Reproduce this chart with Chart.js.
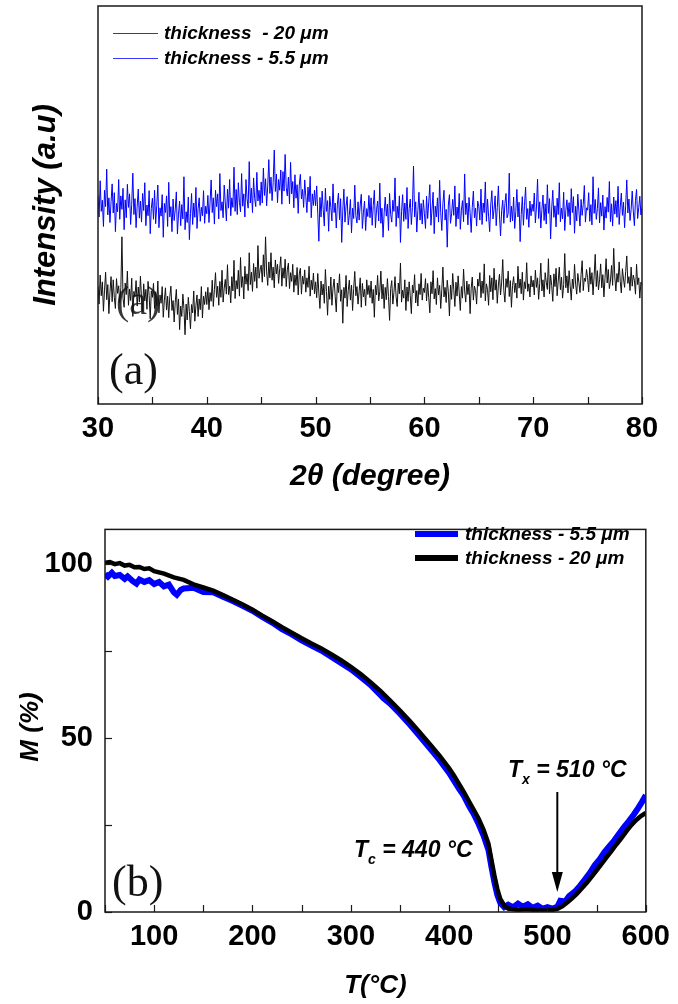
<!DOCTYPE html>
<html>
<head>
<meta charset="utf-8">
<script src="https://cdn.jsdelivr.net/npm/chart.js@4.4.1/dist/chart.umd.min.js"></script>
<style>
html, body { margin: 0; padding: 0; background: #fff; }
#wrapA { position: absolute; left: 0; top: 0; width: 678px; height: 500px; }
#wrapB { position: absolute; left: 0; top: 500px; width: 678px; height: 504px; }
</style>
</head>
<body>
<div id="wrapA"><canvas id="chartA" width="678" height="500"></canvas></div>
<div id="wrapB"><canvas id="chartB" width="678" height="504"></canvas></div>
<script>
//-------------------------------------------------------------------------------------------------//
//--------------------------------------- Data ----------------------------------------------------//
//-------------------------------------------------------------------------------------------------//

// (a) XRD scans, 2theta from 30 to 80 in steps of 0.1 (arbitrary intensity units)
var xrdStart = 30;
var xrdStep = 0.1;

var xrdThick20 = [
	29.6, 25.1, 32.4, 27.2, 30.7, 23.3, 28.6, 33.1, 26.2, 30.0, 22.7, 28.1, 32.0, 25.7, 31.2, 26.8, 24.0, 31.5, 27.8, 29.7,
	25.4, 29.2, 42.0, 26.5, 24.3, 30.4, 27.5, 33.4, 24.8, 28.9, 26.0, 31.6, 22.0, 28.3, 27.0, 31.0, 24.6, 29.4, 25.6, 32.1,
	26.7, 23.2, 30.2, 25.9, 28.8, 23.8, 30.8, 27.3, 21.4, 28.4,
	26.8, 30.3, 24.0, 28.2, 24.7, 30.9, 22.9, 27.4, 25.3, 29.5, 21.8, 26.1, 29.2, 23.6, 27.1, 21.7, 27.0, 29.6, 23.5, 26.0,
	20.6, 25.6, 28.8, 22.5, 26.4, 18.7, 24.6, 22.0, 27.6, 24.0, 17.4, 25.1, 21.1, 26.8, 23.2, 18.9, 25.0, 22.9, 28.4, 20.8,
	24.7, 27.4, 22.0, 26.4, 23.7, 29.5, 21.6, 27.1, 25.0, 28.2,
	25.0, 29.3, 23.7, 28.0, 25.8, 31.1, 24.5, 28.8, 33.0, 26.8, 29.6, 24.8, 30.8, 26.8, 33.6, 25.6, 29.1, 31.3, 27.6, 35.0,
	27.5, 29.6, 25.4, 32.0, 28.4, 36.1, 26.5, 31.0, 28.9, 33.6, 27.1, 36.8, 29.3, 32.0, 26.4, 34.6, 30.1, 32.7, 28.5, 38.0,
	30.0, 33.1, 28.3, 35.3, 30.8, 34.4, 29.1, 39.8, 31.6, 33.7,
	34.9, 30.6, 37.5, 32.0, 42.0, 33.2, 29.8, 35.7, 31.7, 38.0, 31.1, 34.4, 29.2, 36.2, 32.7, 35.1, 30.3, 34.0, 37.0, 29.6,
	34.2, 31.6, 36.4, 29.5, 33.7, 35.4, 29.0, 33.0, 30.8, 35.1, 28.1, 32.4, 29.8, 34.3, 27.4, 32.7, 34.1, 27.6, 32.1, 30.1,
	33.7, 28.1, 31.7, 29.3, 34.6, 27.1, 31.1, 28.7, 32.9, 27.7,
	30.7, 26.7, 32.8, 27.9, 24.0, 30.9, 27.4, 30.1, 25.3, 33.8, 28.3, 22.3, 29.6, 26.3, 31.9, 24.8, 29.1, 31.4, 27.1, 23.1,
	30.4, 28.0, 32.7, 25.8, 28.7, 20.3, 29.3, 26.6, 32.3, 24.5, 28.5, 31.1, 26.1, 29.9, 23.5, 29.0, 33.3, 27.2, 29.5, 25.1,
	28.2, 31.7, 24.3, 30.3, 26.9, 28.8, 24.7, 31.2, 27.5, 29.8,
	26.7, 30.9, 25.3, 28.8, 21.8, 29.8, 27.4, 32.3, 25.9, 28.3, 33.4, 26.4, 30.1, 24.0, 29.3, 26.2, 31.5, 27.0, 21.0, 29.0,
	31.0, 25.1, 28.0, 32.0, 26.9, 24.5, 30.4, 27.7, 35.4, 25.6, 28.6, 26.6, 31.2, 23.5, 29.4, 25.8, 30.7, 27.2, 22.7, 29.9,
	27.9, 32.5, 25.4, 28.5, 24.6, 30.2, 27.5, 32.8, 26.1, 29.1,
	28.0, 31.5, 25.9, 30.3, 26.7, 22.9, 30.7, 27.7, 33.5, 26.4, 29.0, 25.0, 31.7, 27.4, 29.8, 24.0, 28.7, 34.4, 26.9, 29.3,
	25.5, 31.1, 28.2, 22.1, 29.9, 26.3, 32.8, 28.8, 24.5, 30.6, 27.1, 32.2, 27.9, 23.5, 29.5, 26.6, 33.9, 28.4, 25.6, 30.9,
	27.5, 30.1, 22.7, 29.1, 31.9, 26.1, 29.6, 28.5, 25.1, 31.4,
	29.6, 33.0, 26.7, 30.9, 27.8, 35.2, 25.9, 30.2, 28.8, 24.8, 32.3, 28.2, 31.7, 26.2, 34.1, 28.6, 31.2, 25.3, 29.9, 32.6,
	27.4, 30.6, 36.3, 28.5, 25.6, 31.5, 29.3, 33.4, 27.0, 31.0, 24.3, 29.8, 32.0, 28.0, 30.4, 26.6, 34.6, 29.1, 31.4, 27.7,
	33.1, 26.1, 30.7, 29.0, 35.5, 28.3, 30.2, 26.9, 32.2, 29.4,
	31.1, 27.4, 33.6, 29.3, 31.7, 26.3, 30.3, 35.4, 28.4, 31.2, 26.9, 33.0, 30.6, 28.8, 36.5, 27.7, 32.4, 29.8, 25.8, 32.7,
	29.5, 34.1, 27.2, 30.9, 34.4, 28.7, 31.9, 26.6, 30.0, 37.8, 29.2, 32.2, 27.9, 33.5, 29.6, 26.1, 31.4, 29.0, 35.1, 30.1,
	27.6, 32.8, 30.5, 28.0, 32.5, 36.0, 28.5, 31.6, 30.8, 33.8,
	31.7, 28.2, 34.3, 30.1, 33.0, 27.4, 32.2, 37.6, 29.5, 33.5, 28.7, 31.2, 35.2, 29.2, 32.5, 26.9, 31.6, 36.5, 30.4, 33.8,
	29.0, 30.9, 34.8, 29.8, 39.1, 31.9, 28.4, 32.8, 30.6, 35.7, 30.8, 27.9, 34.0, 31.4, 29.3, 33.3, 37.2, 30.3, 32.0, 28.5,
	34.4, 29.6, 32.4, 31.1, 27.6, 35.1, 30.0, 31.7, 26.6, 30.6,
	29.8
];

var xrdThin55 = [
	52.4, 47.0, 56.1, 48.4, 51.2, 44.6, 53.7, 49.6, 59.0, 47.5, 51.8, 45.6, 50.8, 55.3, 48.0, 53.1, 43.3, 50.4, 48.3, 56.4,
	46.4, 52.3, 48.9, 54.2, 43.8, 51.3, 46.8, 55.2, 49.4, 52.8, 45.1, 50.2, 58.0, 47.6, 51.6, 44.3, 49.7, 54.0, 46.7, 51.0,
	45.7, 52.9, 48.6, 55.6, 44.8, 50.0, 47.3, 53.6, 42.8, 49.1,
	51.7, 46.4, 53.7, 45.3, 49.9, 55.0, 44.3, 49.3, 47.2, 52.6, 41.9, 50.4, 48.1, 52.3, 44.6, 55.7, 47.0, 49.6, 43.3, 51.5,
	46.1, 48.8, 53.3, 42.7, 47.7, 51.0, 44.8, 50.1, 46.5, 57.1, 43.8, 48.3, 45.6, 52.0, 41.3, 47.8, 52.9, 45.1, 50.5, 46.9,
	54.4, 44.1, 49.1, 51.8, 45.9, 49.4, 47.3, 53.6, 45.4, 49.7,
	47.8, 52.4, 45.6, 50.7, 56.3, 48.1, 51.8, 45.2, 53.7, 49.6, 52.8, 46.5, 57.9, 48.6, 50.8, 46.8, 55.0, 50.5, 46.0, 54.0,
	49.2, 56.4, 47.3, 51.8, 49.4, 59.5, 48.4, 53.9, 47.6, 55.6, 50.7, 48.3, 57.9, 49.7, 52.8, 47.0, 56.4, 51.6, 49.2, 60.9,
	50.5, 54.2, 48.1, 56.8, 51.6, 49.6, 58.2, 51.0, 53.7, 49.9,
	55.8, 50.5, 59.3, 52.4, 56.6, 49.8, 54.8, 61.4, 52.9, 57.0, 51.1, 55.6, 63.8, 53.4, 57.8, 50.6, 56.4, 53.7, 58.8, 50.2,
	58.4, 53.5, 62.7, 54.4, 52.3, 57.0, 50.3, 60.7, 52.8, 55.9, 49.3, 57.6, 51.7, 55.1, 47.9, 55.0, 57.7, 51.5, 53.9, 49.4,
	56.3, 52.1, 48.1, 54.5, 50.8, 57.2, 46.8, 52.8, 49.9, 53.7,
	49.8, 54.8, 47.8, 40.9, 51.9, 47.0, 53.5, 48.9, 44.7, 54.2, 48.4, 51.1, 43.4, 52.2, 49.4, 46.0, 55.3, 48.1, 50.5, 44.2,
	50.2, 53.0, 46.3, 51.6, 40.6, 48.7, 54.0, 45.7, 49.7, 52.1, 45.0, 47.4, 51.4, 43.0, 49.2, 46.6, 55.0, 47.3, 45.5, 50.8,
	46.2, 50.0, 52.7, 44.1, 48.2, 51.0, 43.6, 49.1, 47.1, 52.4,
	46.8, 51.8, 44.9, 49.9, 53.7, 44.3, 48.8, 51.0, 46.0, 55.5, 45.4, 49.2, 41.9, 48.0, 52.0, 47.2, 50.2, 43.6, 52.9, 47.6,
	45.7, 51.2, 48.4, 56.8, 44.6, 49.7, 46.7, 52.3, 40.6, 48.3, 52.6, 45.9, 50.5, 46.4, 54.4, 44.1, 49.1, 51.5, 45.1, 49.4,
	59.8, 47.0, 50.8, 43.2, 48.6, 53.2, 46.2, 50.4, 45.2, 51.3,
	47.9, 44.1, 52.2, 46.6, 50.8, 55.1, 44.9, 49.0, 53.2, 42.8, 49.7, 47.0, 51.8, 45.7, 56.2, 48.2, 43.6, 50.3, 53.7, 46.2,
	48.9, 39.4, 50.0, 52.6, 45.4, 47.8, 51.4, 47.4, 54.8, 44.6, 49.5, 46.5, 52.9, 43.9, 48.6, 51.1, 45.8, 57.8, 47.6, 50.5,
	45.0, 51.9, 48.1, 43.1, 49.4, 53.5, 46.8, 49.2, 44.7, 51.0,
	49.6, 46.2, 54.0, 45.1, 50.5, 48.1, 55.8, 45.9, 51.5, 47.2, 43.3, 50.0, 53.6, 46.5, 48.9, 52.3, 44.8, 49.4, 54.8, 47.5,
	42.2, 48.6, 51.2, 45.4, 50.4, 52.9, 46.8, 47.8, 58.0, 45.7, 49.7, 46.0, 52.0, 44.1, 48.3, 53.9, 47.0, 50.7, 40.8, 47.6,
	52.1, 44.9, 49.9, 54.5, 46.4, 49.1, 44.4, 51.0, 47.3, 50.2,
	48.4, 53.0, 45.5, 49.5, 56.5, 46.6, 50.8, 44.2, 48.9, 52.5, 46.1, 50.3, 45.2, 55.1, 47.9, 51.6, 41.5, 49.0, 53.7, 46.9,
	49.8, 44.5, 51.7, 47.6, 55.6, 45.8, 49.2, 46.5, 53.2, 43.6, 48.7, 51.3, 47.1, 50.6, 45.0, 54.1, 48.1, 52.1, 42.9, 49.7,
	46.0, 52.7, 48.5, 44.7, 51.4, 47.4, 50.1, 54.9, 45.7, 49.3,
	48.7, 53.1, 45.9, 50.1, 45.0, 57.1, 47.9, 51.4, 46.4, 49.1, 54.3, 45.5, 50.6, 47.2, 52.5, 43.7, 49.6, 46.7, 51.9, 48.2,
	55.9, 45.8, 50.3, 44.7, 52.0, 47.7, 51.1, 46.9, 54.7, 45.1, 49.5, 53.0, 47.4, 50.7, 44.3, 49.9, 56.3, 48.0, 51.5, 46.1,
	48.8, 53.5, 48.5, 44.8, 51.2, 53.9, 46.6, 49.3, 52.2, 47.5,
	49.4
];

// (b) magnetisation vs temperature
var tempThick20 = [50, 55, 60, 65, 70, 75, 80, 85, 90, 95, 100, 110, 120, 130, 140, 150, 160, 170, 180, 190, 200,
	210, 220, 230, 240, 250, 260, 270, 280, 290, 300, 310, 320, 330, 340, 350, 360, 370, 380, 390, 400,
	405, 410, 415, 420, 425, 430, 435, 440, 443, 446, 449, 452, 456, 460, 470, 480, 490, 500, 505, 510,
	515, 520, 525, 530, 535, 540, 545, 550, 555, 560, 565, 570, 575, 580, 585, 590, 595, 600];
var magThick20 = [100.4, 100.6, 100.0, 100.3, 99.6, 99.8, 99.1, 99.2, 98.6, 98.8, 98.0, 97.3, 96.2, 95.5, 94.2, 93.3, 92.4, 91.1, 89.8, 88.4, 86.9,
	85.2, 83.6, 81.9, 80.3, 78.7, 77.2, 75.8, 74.1, 72.4, 70.5, 68.4, 66.1, 63.6, 60.8, 57.9, 54.9, 51.7, 48.4, 45.0, 41.3,
	39.2, 36.8, 34.5, 31.9, 29.4, 26.8, 23.6, 19.6, 15.0, 10.5, 6.6, 3.8, 1.9, 1.0, 0.6, 0.8, 0.4, 0.5, 0.6, 0.9,
	1.6, 2.7, 3.9, 5.3, 6.8, 8.4, 10.2, 12.0, 13.8, 15.7, 17.5, 19.4, 21.2, 23.1, 24.9, 26.4, 27.6, 28.5];

var tempThin55 = [50, 53, 57, 60, 65, 70, 73, 78, 82, 85, 90, 95, 100, 105, 110, 115, 120, 123, 127, 130, 140, 150,
	160, 170, 180, 190, 200, 210, 220, 230, 240, 250, 260, 270, 280, 290, 300, 310, 320, 330, 333, 340,
	350, 360, 370, 380, 390, 400, 410, 415, 420, 425, 430, 435, 440, 443, 446, 449, 452, 456, 460, 465,
	470, 475, 480, 485, 490, 495, 500, 505, 510, 513, 518, 522, 528, 533, 538, 543, 548, 553, 558, 563,
	568, 573, 578, 583, 588, 592, 596, 600];
var magThin55 = [97.2, 96.4, 97.5, 96.6, 96.9, 95.8, 96.5, 95.2, 94.4, 95.6, 94.9, 95.4, 94.3, 94.9, 93.6, 94.1, 91.9, 91.2, 92.6, 93.0, 93.2, 92.0,
	91.9, 90.6, 89.4, 88.0, 86.6, 84.8, 83.2, 81.3, 79.8, 78.1, 76.6, 75.2, 73.4, 71.6, 69.8, 67.6, 65.3, 62.4, 61.5, 59.9,
	57.0, 53.9, 50.6, 47.2, 43.8, 40.0, 35.5, 33.4, 30.6, 28.2, 25.3, 22.0, 17.8, 13.0, 8.6, 4.9, 2.6, 1.4, 2.1, 1.3,
	2.4, 1.5, 2.2, 1.2, 1.8, 0.9, 1.4, 1.0, 1.5, 3.2, 3.0, 4.6, 5.9, 7.5, 9.3, 11.2, 13.4, 15.1, 17.2, 18.9,
	20.6, 22.6, 24.5, 26.2, 28.1, 29.8, 31.6, 33.6];

var legendA = ['thickness  - 20 \u03BCm', 'thickness - 5.5 \u03BCm'];
var legendB = ['thickness - 5.5 \u03BCm', 'thickness - 20 \u03BCm'];
var tcTemp = 440;
var txTemp = 510;

//-------------------------------------------------------------------------------------------------//
//--------------------------------------- Helpers -------------------------------------------------//
//-------------------------------------------------------------------------------------------------//

var SANS = 'Arial, "Liberation Sans", sans-serif';
var SERIF = '"Times New Roman", "Liberation Serif", serif';

function xrdPoints(values) {
	return values.map((v, i) => ({x: +(xrdStart + i * xrdStep).toFixed(1), y: v}));
}

function pairPoints(xs, ys) {
	return xs.map((x, i) => ({x: x, y: ys[i]}));
}

function line(ctx, x1, y1, x2, y2) {
	ctx.beginPath();
	ctx.moveTo(x1, y1);
	ctx.lineTo(x2, y2);
	ctx.stroke();
}

// text with a subscript after the first letter: T_c = 440 °C
function subText(ctx, main, sub, rest, x, y, size) {
	ctx.font = 'italic bold ' + size + 'px ' + SANS;
	ctx.textBaseline = 'alphabetic';
	ctx.textAlign = 'left';
	ctx.fillText(main, x, y);
	var w = ctx.measureText(main).width;
	ctx.font = 'italic bold ' + Math.round(size * 0.62) + 'px ' + SANS;
	ctx.fillText(sub, x + w, y + 7);
	var ws = ctx.measureText(sub).width;
	ctx.font = 'italic bold ' + size + 'px ' + SANS;
	ctx.fillText(rest, x + w + ws, y);
}

var framePlugin = {
	id: 'frame',
	afterDatasetsDraw(chart, args, opts) {
		var a = chart.chartArea;
		var ctx = chart.ctx;
		ctx.save();
		ctx.strokeStyle = '#1a1a1a';
		ctx.lineWidth = 1.5;
		ctx.strokeRect(a.left, a.top, a.right - a.left, a.bottom - a.top);

		ctx.lineWidth = 1.2;
		var xs = chart.scales.x;
		xs.ticks.forEach(t => {
			var px = Math.round(xs.getPixelForValue(t.value)) + 0.5;
			line(ctx, px, a.bottom, px, a.bottom - 7);
		});
		if (opts.yTicks) {
			var ys = chart.scales.y;
			ys.ticks.forEach(t => {
				var py = Math.round(ys.getPixelForValue(t.value)) + 0.5;
				line(ctx, a.left, py, a.left + 7, py);
			});
		}
		ctx.restore();
	}
};

//-------------------------------------------------------------------------------------------------//
//--------------------------------------- Panel (a) -----------------------------------------------//
//-------------------------------------------------------------------------------------------------//

var decorA = {
	id: 'decorA',
	afterDraw(chart) {
		var ctx = chart.ctx;
		ctx.save();

		// legend
		var rows = [{y: 33, color: '#444', text: legendA[0]}, {y: 58, color: '#3a3aff', text: legendA[1]}];
		rows.forEach(r => {
			ctx.strokeStyle = r.color;
			ctx.lineWidth = 1;
			line(ctx, 113, r.y + 0.5, 158, r.y + 0.5);
			ctx.fillStyle = '#000';
			ctx.font = 'italic bold 19px ' + SANS;
			ctx.textBaseline = 'middle';
			ctx.fillText(r.text, 164, r.y + 1);
		});

		// panel letter and its faint double over the trace
		ctx.fillStyle = '#111';
		ctx.font = '44px ' + SERIF;
		ctx.textBaseline = 'alphabetic';
		ctx.fillText('(a)', 109, 384);
		ctx.fillStyle = 'rgba(20,20,20,0.85)';
		ctx.font = '40px ' + SERIF;
		ctx.fillText('(a)', 116, 314);
		ctx.restore();
	}
};

new Chart(document.getElementById('chartA'), {
	type: 'line',
	data: {
		datasets: [
			{
				label: legendA[0],
				data: xrdPoints(xrdThick20),
				borderColor: '#111111',
				borderWidth: 1,
				pointRadius: 0,
				tension: 0
			},
			{
				label: legendA[1],
				data: xrdPoints(xrdThin55),
				borderColor: '#0000ff',
				borderWidth: 1,
				pointRadius: 0,
				tension: 0
			}
		]
	},
	options: {
		responsive: false,
		animation: false,
		layout: {padding: {left: 0, right: 36, top: 6, bottom: 0}},
		plugins: {legend: {display: false}, tooltip: {enabled: false}, frame: {yTicks: false}},
		scales: {
			x: {
				type: 'linear',
				min: 30,
				max: 80,
				grid: {display: false, drawTicks: false},
				border: {display: false},
				ticks: {
					stepSize: 5,
					autoSkip: false,
					maxRotation: 0,
					padding: 8,
					color: '#000',
					font: {family: SANS, size: 29, weight: 'bold'},
					callback: v => (v % 10 === 0 ? v : '')
				},
				title: {
					display: true,
					text: '2\u03B8 (degree)',
					color: '#000',
					font: {family: SANS, size: 30, weight: 'bold', style: 'italic'},
					padding: {top: 0, bottom: 5}
				},
				afterFit: s => { s.height = 96; }
			},
			y: {
				min: 0,
				max: 100,
				grid: {display: false, drawTicks: false},
				border: {display: false},
				ticks: {display: false},
				title: {
					display: true,
					text: 'Intensity (a.u)',
					color: '#000',
					font: {family: SANS, size: 31, weight: 'bold', style: 'italic'},
					padding: {top: 28, bottom: 0}
				},
				afterFit: s => { s.width = 98; }
			}
		}
	},
	plugins: [framePlugin, decorA]
});

//-------------------------------------------------------------------------------------------------//
//--------------------------------------- Panel (b) -----------------------------------------------//
//-------------------------------------------------------------------------------------------------//

var decorB = {
	id: 'decorB',
	afterDraw(chart) {
		var ctx = chart.ctx;
		var xs = chart.scales.x;
		ctx.save();

		// legend
		var rows = [{y: 34, color: '#0000ff', text: legendB[0]}, {y: 58, color: '#000', text: legendB[1]}];
		rows.forEach(r => {
			ctx.strokeStyle = r.color;
			ctx.lineWidth = 6;
			line(ctx, 415, r.y, 458, r.y);
			ctx.fillStyle = '#000';
			ctx.font = 'italic bold 19px ' + SANS;
			ctx.textBaseline = 'middle';
			ctx.fillText(r.text, 465, r.y + 1);
		});

		// y title
		ctx.save();
		ctx.translate(31, 227);
		ctx.rotate(-Math.PI / 2);
		ctx.font = 'italic bold 26px ' + SANS;
		ctx.textAlign = 'center';
		ctx.textBaseline = 'middle';
		ctx.fillStyle = '#000';
		ctx.fillText('M (%)', 0, 0);
		ctx.restore();

		// panel letter
		ctx.fillStyle = '#111';
		ctx.font = '44px ' + SERIF;
		ctx.textBaseline = 'alphabetic';
		ctx.fillText('(b)', 112, 396);

		// annotations
		ctx.fillStyle = '#000';
		subText(ctx, 'T', 'c', ' = ' + tcTemp + ' \u00B0C', 354, 357, 23);
		subText(ctx, 'T', 'x', ' = ' + txTemp + ' \u00B0C', 508, 277, 23);

		// arrow at Tx
		var ax = xs.getPixelForValue(txTemp);
		ctx.strokeStyle = '#000';
		ctx.lineWidth = 2;
		line(ctx, ax, 292, ax, 378);
		ctx.beginPath();
		ctx.moveTo(ax - 5.5, 372);
		ctx.lineTo(ax + 5.5, 372);
		ctx.lineTo(ax, 392);
		ctx.closePath();
		ctx.fill();
		ctx.restore();
	}
};

new Chart(document.getElementById('chartB'), {
	type: 'line',
	data: {
		datasets: [
			{
				label: legendB[0],
				data: pairPoints(tempThin55, magThin55),
				borderColor: '#0000ff',
				borderWidth: 6,
				pointRadius: 0,
				tension: 0,
				order: 1
			},
			{
				label: legendB[1],
				data: pairPoints(tempThick20, magThick20),
				borderColor: '#000000',
				borderWidth: 4.5,
				pointRadius: 0,
				tension: 0,
				order: 0
			}
		]
	},
	options: {
		responsive: false,
		animation: false,
		layout: {padding: {left: 0, right: 29, top: 13, bottom: 0}},
		plugins: {legend: {display: false}, tooltip: {enabled: false}, frame: {yTicks: true}},
		scales: {
			x: {
				type: 'linear',
				min: 50,
				max: 600,
				grid: {display: false, drawTicks: false},
				border: {display: false},
				ticks: {
					stepSize: 50,
					autoSkip: false,
					maxRotation: 0,
					padding: 8,
					color: '#000',
					font: {family: SANS, size: 29, weight: 'bold'},
					callback: v => (v % 100 === 0 ? v : '')
				},
				title: {
					display: true,
					text: 'T(\u00B0C)',
					color: '#000',
					font: {family: SANS, size: 26, weight: 'bold', style: 'italic'},
					padding: {top: 0, bottom: 3}
				},
				afterFit: s => { s.height = 92; }
			},
			y: {
				min: 0,
				max: 110,
				grid: {display: false, drawTicks: false},
				border: {display: false},
				ticks: {
					stepSize: 25,
					includeBounds: false,
					autoSkip: false,
					padding: 12,
					color: '#000',
					font: {family: SANS, size: 29, weight: 'bold'},
					callback: v => (v % 50 === 0 ? v : '')
				},
				afterFit: s => { s.width = 105; }
			}
		}
	},
	plugins: [framePlugin, decorB]
});
</script>
</body>
</html>
